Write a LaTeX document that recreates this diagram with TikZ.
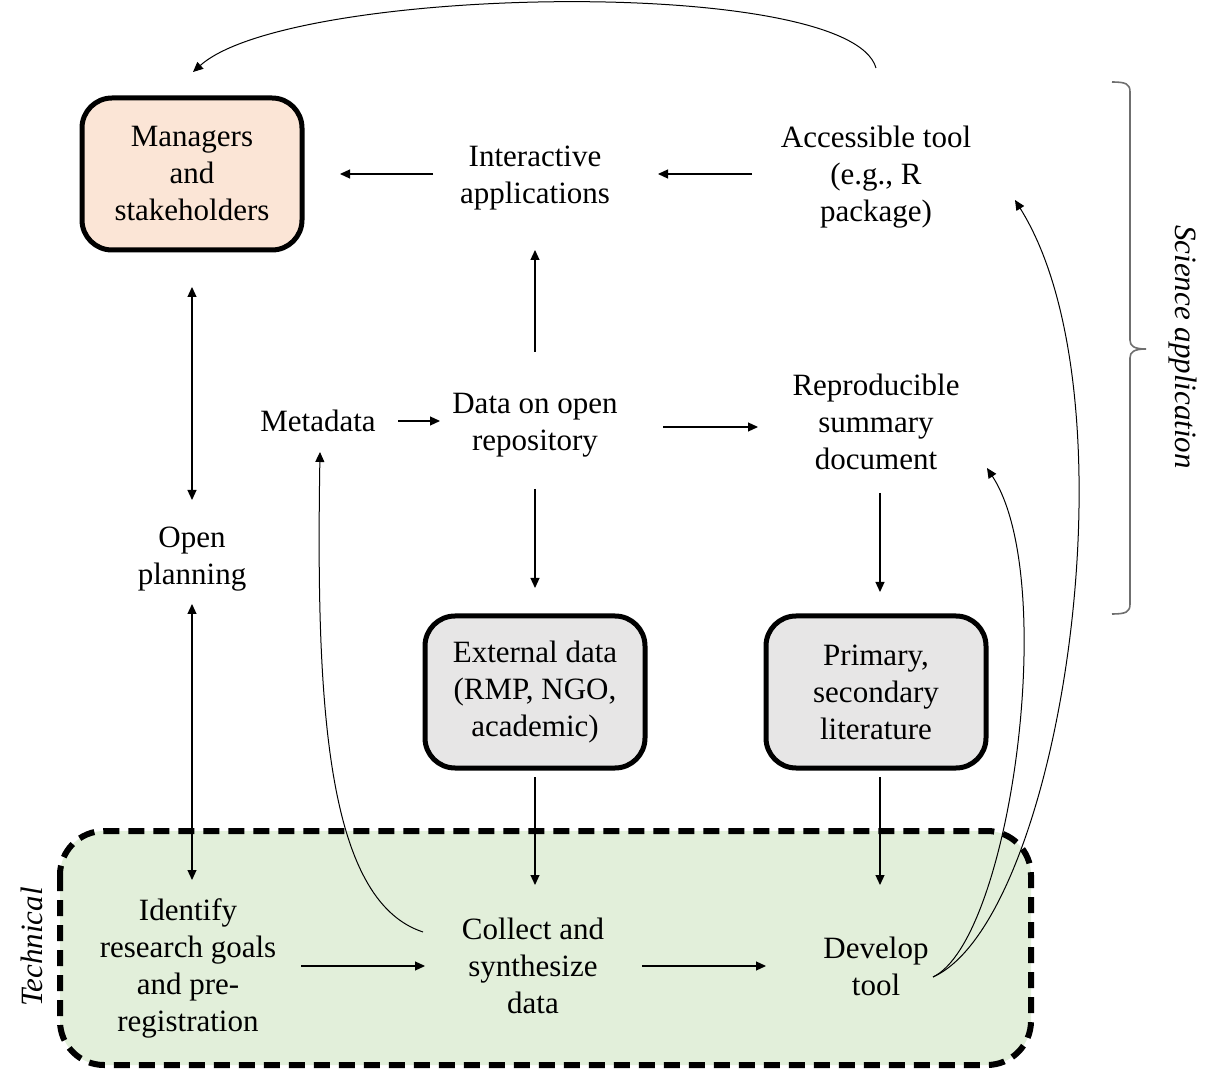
\documentclass[tikz,border=0pt]{standalone}
\usepackage{fontspec}
\setmainfont{Liberation Serif}
\usetikzlibrary{arrows.meta}
\definecolor{mgrfill}{HTML}{FBE5D6}
\definecolor{grayfill}{HTML}{E7E6E6}
\definecolor{greenfill}{HTML}{E2EFDA}
\definecolor{bracegray}{HTML}{6F6F6F}
\tikzset{
 txt/.style={align=center, inner sep=0pt, font=\fontsize{15.5}{18.5}\selectfont},
 itxt/.style={align=center, inner sep=0pt, font=\fontsize{15.5}{18.5}\selectfont\itshape},
 roundbox/.style={txt, draw, line width=2.5pt, rounded corners=15pt, minimum width=110pt, minimum height=76pt},
 arr/.style={line width=0.6pt, -{Triangle[length=5pt,width=4.5pt]}},
 dblarr/.style={line width=0.6pt, {Triangle[length=5pt,width=4.5pt]}-{Triangle[length=5pt,width=4.5pt]}},
 crv/.style={line width=0.5pt, -{Triangle[length=5pt,width=4.5pt]}},
 techbox/.style={fill=greenfill, draw=black, line width=3pt, dash pattern=on 8pt off 4.5pt, rounded corners=22pt},
 bracestyle/.style={draw=bracegray, line width=0.8pt}
}
\begin{document}
\begin{tikzpicture}[x=0.5pt,y=-0.5pt]
\useasboundingbox (0,0) rectangle (1206,1069);
% technical region
\path[techbox] (60,831) rectangle (1031,1065);
% nodes
\node[roundbox, fill=mgrfill] (mgr) at (192,174) {Managers\\and\\stakeholders};
\node[txt] (inter) at (535,178) {Interactive\\applications};
\node[txt] (acc) at (876,177) {Accessible tool\\(e.g., R\\package)};
\node[txt] (meta) at (318,421) {Metadata};
\node[txt] (data) at (535,425) {Data on open\\repository};
\node[txt] (repro) at (876,422) {Reproducible\\summary\\document};
\node[txt] (open) at (192,559) {Open\\planning};
\node[roundbox, fill=grayfill] (ext) at (535,692) {External data\\(RMP, NGO,\\academic)};
\node[roundbox, fill=grayfill] (prim) at (876,692) {Primary,\\secondary\\literature};
\node[txt] (ident) at (188,968) {Identify\\research goals\\and pre-\\registration};
\node[txt] (coll) at (533,966) {Collect and\\synthesize\\data};
\node[txt] (dev) at (876,966) {Develop\\tool};
\node[itxt, rotate=-90] (sci) at (1183,347) {Science application};
\node[itxt, rotate=90] (tech) at (32,947) {Technical};
% helper coordinates
\coordinate (dr) at ([yshift=-2.5pt]repro.center);
\coordinate (pr) at ([xshift=2pt]prim.center);
% straight arrows
\draw[arr, shorten <=51pt, shorten >=74pt] (inter.center |- mgr.center) -- (mgr.center);
\draw[arr, shorten <=62pt, shorten >=61.5pt] (acc.center |- mgr.center) -- (inter.center |- mgr.center);
\draw[arr, shorten <=36.5pt, shorten >=36pt] (data.center) -- (inter.center);
\draw[arr, shorten <=40pt, shorten >=47.5pt] (meta.center) -- (meta.center -| data.center);
\draw[arr, shorten <=64pt, shorten >=59pt] (data.center |- dr) -- (dr);
\draw[arr, shorten <=32pt, shorten >=52pt] (data.center) -- (ext.center);
\draw[arr, shorten <=35.5pt, shorten >=50pt] (repro.center -| pr) -- (pr);
\draw[dblarr, shorten <=56.5pt, shorten >=29.5pt] (mgr.center) -- (open.center);
\draw[dblarr, shorten <=22.5pt, shorten >=44pt] (open.center) -- (open.center |- ident.center);
\draw[arr, shorten <=42.5pt, shorten >=40.5pt] (ext.center) -- (ext.center |- coll.center);
\draw[arr, shorten <=42.5pt, shorten >=40.5pt] (pr) -- (pr |- dev.center);
\draw[arr, shorten <=56.5pt, shorten >=54pt] (ident.center |- coll.center) -- (coll.center);
\draw[arr, shorten <=54.5pt, shorten >=55pt] (coll.center) -- (dev.center);
% curved arrows
\draw[crv] ([shift={(-110,-34)}]coll.center) .. controls (325,900) and (316,700) .. ([shift={(2,31)}]meta.center);
\draw[crv] ([shift={(57,11)}]dev.center) .. controls (1010,940) and (1060,580) .. ([shift={(111,46)}]repro.center);
\draw[crv] ([shift={(57,11)}]dev.center) .. controls (1060,920) and (1140,400) .. ([shift={(139,23)}]acc.center);
\draw[crv] ([shift={(0,-109)}]acc.center) .. controls (850,-25) and (290,-15) .. ([shift={(1,-102)}]mgr.center);
% brace
\draw[bracestyle] (1112,82) .. controls (1126,82) and (1130,84) .. (1130,92) -- (1130,340)
  .. controls (1130,346) and (1134,349) .. (1146,349)
  .. controls (1134,349) and (1130,352) .. (1130,358) -- (1130,604)
  .. controls (1130,612) and (1126,614) .. (1112,614);
\end{tikzpicture}
\end{document}
